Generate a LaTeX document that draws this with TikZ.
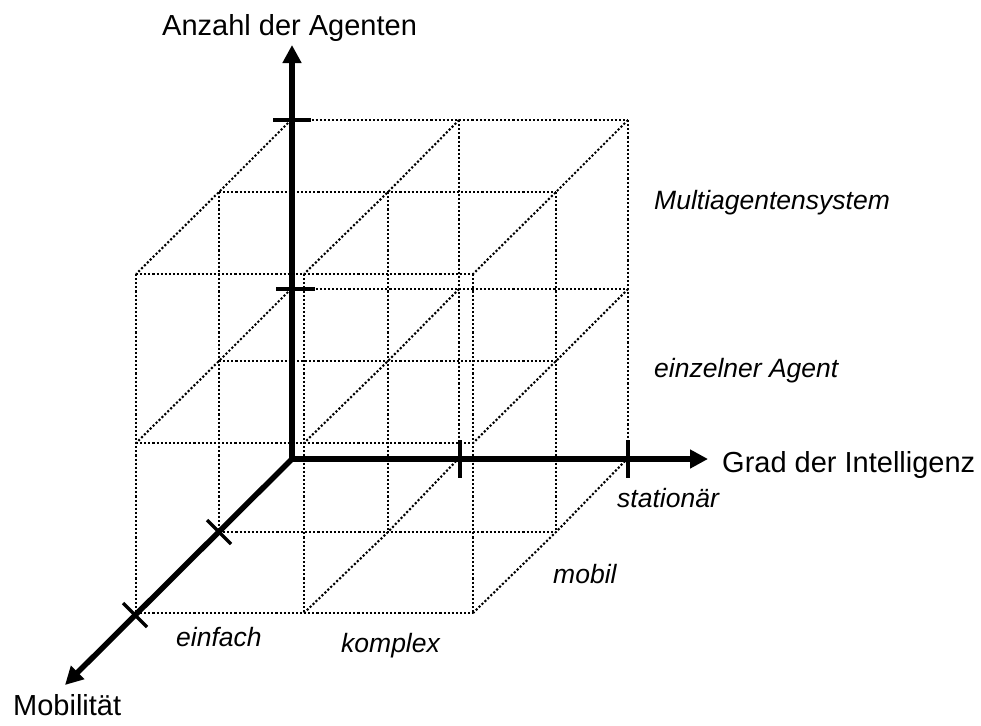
\documentclass[tikz,border=0pt]{standalone}
\usepackage{fontspec}
\setmainfont{Liberation Sans}
\usetikzlibrary{arrows.meta}
\begin{document}
\begin{tikzpicture}[x=1pt,y=-1pt,
  >={Triangle[length=18pt,width=18pt]},
  grid/.style={line width=2.1pt, dash pattern=on 2.1pt off 2pt},
  axisline/.style={line width=5.5pt},
  tickmark/.style={line width=3.2pt},
  big/.style={font=\fontsize{29}{34}\selectfont, inner sep=0pt, anchor=base west},
  lab/.style={font=\fontsize{26.5}{32}\selectfont\itshape, inner sep=0pt, anchor=base west}]
\useasboundingbox (0,0) rectangle (981,725);
% back face
\draw[grid] (291,120) -- (628,120);
\draw[grid] (291,289) -- (628,289);
\draw[grid] (459,120) -- (459,458);
\draw[grid] (628,120) -- (628,458);
% middle layer
\foreach \ym in {192,361,532} \draw[grid] (219,\ym) -- (556,\ym);
\foreach \xm in {219,388,556} \draw[grid] (\xm,192) -- (\xm,532);
% front face
\foreach \yf in {274,443,613} \draw[grid] (136,\yf) -- (473,\yf);
\foreach \xf in {136,304,473} \draw[grid] (\xf,274) -- (\xf,613);
% depth lines
\foreach \x/\xm/\xf in {291/219/136, 459/388/304, 628/556/473}
  \foreach \y/\ym/\yf in {120/192/274, 289/361/443, 458/532/613}
    \draw[grid] (\x,\y) -- (\xm,\ym) -- (\xf,\yf);
% axes
\coordinate (O) at (292,459);
\coordinate (ytip) at (292,45);
\coordinate (xtip) at (708,459);
\coordinate (ztip) at (65,685);
\draw[axisline, <->] (ytip) -- (O) -- (xtip);
\draw[axisline, ->] (O) -- (ztip);
% ticks
\draw[tickmark] (273,120) -- (311,120);
\draw[tickmark] (276,289) -- (315,289);
\draw[tickmark] (460,440) -- (460,478);
\draw[tickmark] (628,440) -- (628,478);
\draw[tickmark] (207,520) -- (231,544);
\draw[tickmark] (123,603) -- (147,627);
% labels
\node[big] (ylab) at (162,36) {Anzahl der Agenten};
\node[big] (xlab) at (722,472) {Grad der Intelligenz};
\node[big] (zlab) at (13,715) {Mobilität};
\node[lab] (multi) at (654,209) {Multiagentensystem};
\node[lab] (einzel) at (654,377) {einzelner Agent};
\node[lab] (einfach) at (176,646) {einfach};
\node[lab] (komplex) at (341,652) {komplex};
\node[lab] (mobil) at (553,583) {mobil};
\node[lab] (station) at (617,507) {stationär};
\end{tikzpicture}
\end{document}
